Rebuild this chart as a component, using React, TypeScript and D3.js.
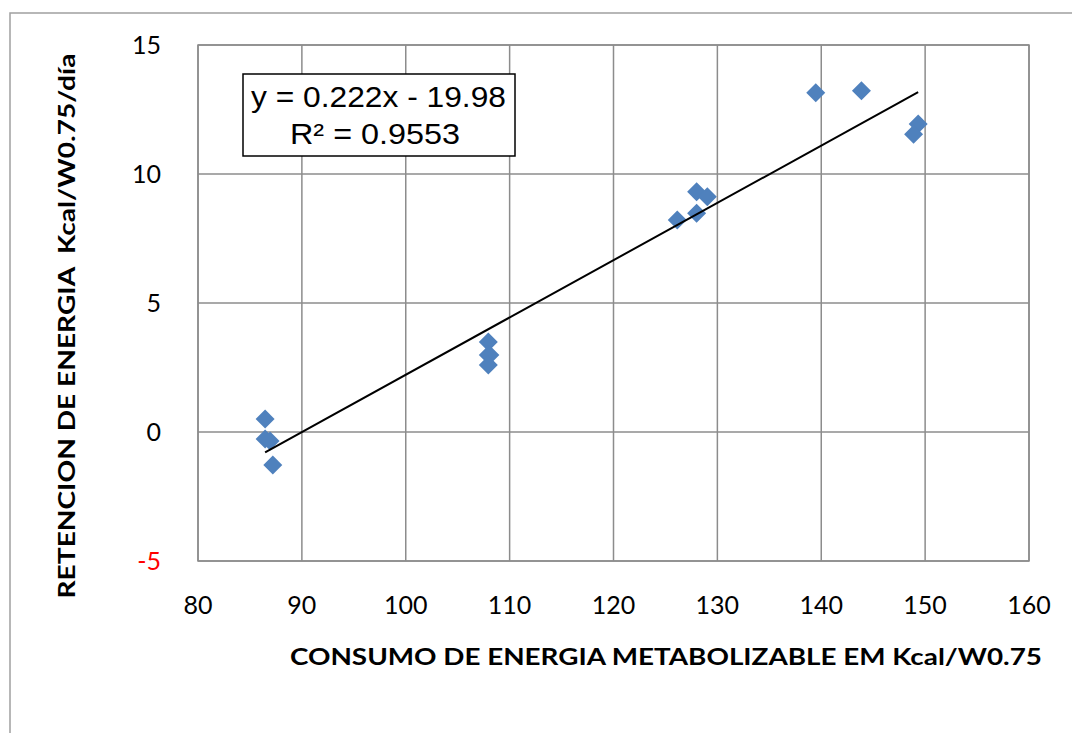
import React from "react";
import * as d3 from "d3";

const consumo = [86.46, 86.46, 86.94, 87.2, 107.95, 107.95, 108.1, 107.95, 128.0, 129.03, 128.0, 126.14, 139.47, 143.87, 149.33, 148.89];
const retencion = [0.5, -0.27, -0.35, -1.28, 3.49, 2.98, 2.98, 2.6, 9.31, 9.12, 8.48, 8.22, 13.15, 13.23, 11.94, 11.54];
const xTicks = [80, 90, 100, 110, 120, 130, 140, 150, 160];
const yTicks = [-5, 0, 5, 10, 15];
const slope = 0.222;
const intercept = -19.98;
const eqLabel = "y = 0.222x - 19.98";
const r2Label = "R² = 0.9553";
const xTitle = "CONSUMO DE ENERGIA METABOLIZABLE EM Kcal/W0.75";
const yTitle = "RETENCION DE ENERGIA  Kcal/W0.75/día";

const W = 1072;
const H = 733;
const L = 198, R = 1029, T = 45, B = 561;
const font = "Lato, 'Open Sans', sans-serif";
const arial = "'Liberation Sans', Arial, sans-serif";

export default function App() {
  const x = d3.scaleLinear().domain([80, 160]).range([L, R]);
  const y = d3.scaleLinear().domain([-5, 15]).range([B, T]);
  const xmin = d3.min(consumo) as number;
  const xmax = d3.max(consumo) as number;
  const line = d3.line<number>().x((d) => x(d)).y((d) => y(slope * d + intercept));
  const diamond = d3.symbol().type(d3.symbolDiamond2).size(230)();
  return (
    <svg width={W} height={H} style={{ position: "absolute", left: 0, top: 0, background: "#fff" }}>
      <rect x={10} y={13} width={1100} height={760} fill="#fff" stroke="#a0a0a0" strokeWidth={1.5} />
      {xTicks.map((t) => (
        <line key={"gx" + t} x1={x(t)} x2={x(t)} y1={T} y2={B} stroke="#8c8c8c" strokeWidth={1.5} />
      ))}
      {yTicks.map((t) => (
        <line key={"gy" + t} x1={L} x2={R} y1={y(t)} y2={y(t)} stroke="#8c8c8c" strokeWidth={1.5} />
      ))}
      <rect x={L} y={T} width={R - L} height={B - T} fill="none" stroke="#8c8c8c" strokeWidth={1.5} />
      {yTicks.map((t) => (
        <text key={"ly" + t} x={161} y={y(t)} dy="0.36em" textAnchor="end" fontFamily={font} fontSize={25} fill={t < 0 ? "#ff0000" : "#000"}>
          {t}
        </text>
      ))}
      {xTicks.map((t) => (
        <text key={"lx" + t} x={x(t)} y={614} textAnchor="middle" fontFamily={font} fontSize={25} fill="#000">
          {t}
        </text>
      ))}
      {consumo.map((c, i) => (
        <path key={"p" + i} d={diamond as string} transform={`translate(${x(c)},${y(retencion[i])})`} fill="#4f81bd" />
      ))}
      <path d={line([xmin, xmax]) as string} stroke="#000" strokeWidth={2} fill="none" />
      <rect x={243} y={74} width={272} height={82} fill="#fff" stroke="#000" strokeWidth={1.5} />
      <text x={378.5} y={107} textAnchor="middle" fontFamily={arial} fontSize={29} textLength={255} lengthAdjust="spacingAndGlyphs" fill="#000">{eqLabel}</text>
      <text x={375} y={144} textAnchor="middle" fontFamily={arial} fontSize={29} textLength={170} lengthAdjust="spacingAndGlyphs" fill="#000">{r2Label}</text>
      <text x={666} y={665} textAnchor="middle" fontFamily={font} fontWeight="bold" fontSize={22} textLength={752} lengthAdjust="spacingAndGlyphs" fill="#000">
        {xTitle}
      </text>
      <text transform="translate(75,326) rotate(-90)" textAnchor="middle" fontFamily={font} fontWeight="bold" fontSize={22} textLength={545} lengthAdjust="spacingAndGlyphs" fill="#000" style={{ whiteSpace: "pre" }}>
        {yTitle}
      </text>
    </svg>
  );
}
